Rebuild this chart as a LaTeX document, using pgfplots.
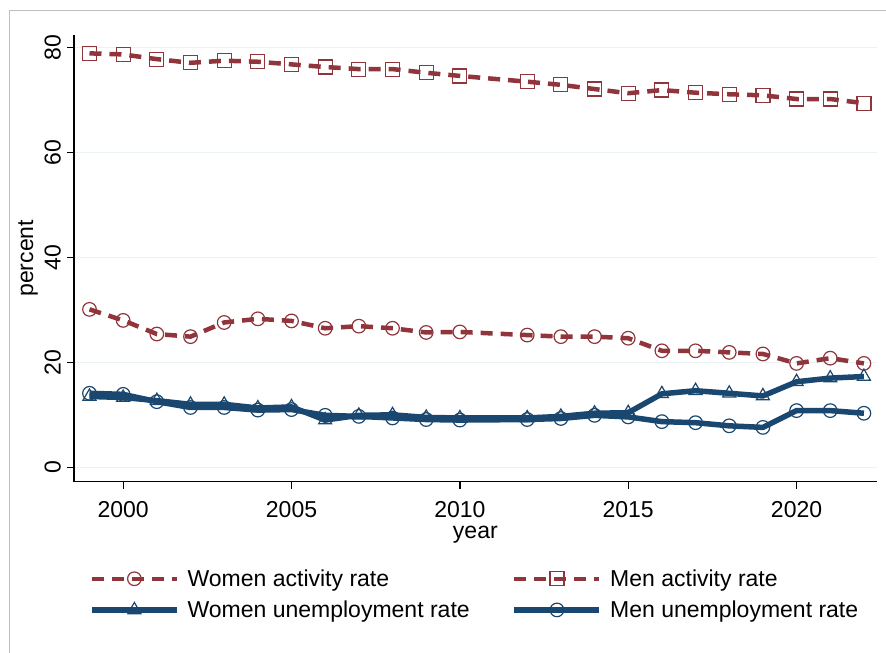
\documentclass[border=0pt]{standalone}
\usepackage{fontspec}
\setmainfont{Liberation Sans}
\usepackage{pgfplots}
\pgfplotsset{compat=1.18}
\definecolor{stmaroon}{RGB}{144,53,59}
\definecolor{stnavy}{RGB}{26,71,111}
\definecolor{stgrid}{RGB}{234,242,243}
\definecolor{stframe}{RGB}{190,190,190}
\begin{document}
\begin{tikzpicture}
\useasboundingbox (-74bp,-171.3bp) rectangle (812bp,481.7bp);
\draw[stframe, line width=1bp] (-64bp,-171.3bp) -- (-64bp,470.7bp) -- (812bp,470.7bp);
\begin{axis}[
  scale only axis, width=802.7bp, height=446.7bp,
  xmin=1998.54, xmax=2022.38, ymin=-2.75, ymax=82.4,
  axis x line*=bottom, axis y line*=left,
  axis line style={-, line width=1.3bp, black},
  xtick={2000,2005,...,2020}, ytick={0,20,...,80},
  tick align=outside, major tick length=7bp,
  tick style={line width=1.3bp, black},
  ymajorgrids, grid style={line width=1.3bp, stgrid},
  /pgf/number format/assume math mode=true,
  /pgf/number format/1000 sep={},
  tick label style={font=\fontsize{23bp}{27bp}\selectfont},
  xticklabel style={anchor=north, inner sep=0bp, yshift=-13bp},
  yticklabel style={rotate=90, anchor=south, inner sep=6bp},
  label style={font=\fontsize{23bp}{27bp}\selectfont},
  xlabel={year}, ylabel={percent},
  xlabel style={at={(axis description cs:0.5,-0.127)}, anchor=base},
  ylabel style={at={(axis description cs:-0.051,0.5)}, anchor=base},
  legend columns=2,
  legend cell align=left,
  legend style={at={(axis description cs:0.0149,-0.1876)}, anchor=north west,
    draw=none, fill=none, font=\fontsize{23bp}{27bp}\selectfont, row sep=9bp,
    /tikz/every odd column/.append style={column sep=6bp},
    /tikz/every even column/.append style={column sep=40bp},
    /tikz/column 3/.append style={column sep=1bp}},
  legend image code/.code={\draw[mark repeat=2,mark phase=2,#1] plot coordinates {(0bp,0bp) (42.5bp,0bp) (85bp,0bp)};},
]
\addplot[stmaroon, line width=4.5bp, dash pattern=on 12bp off 8bp, mark=o, mark size=6.8bp, mark options={solid, line width=1.2bp}] coordinates {
(1999,30.1) (2000,28.0) (2001,25.4) (2002,24.9) (2003,27.6) (2004,28.3) (2005,27.9) (2006,26.5) (2007,26.9) (2008,26.5) (2009,25.7) (2010,25.8) (2012,25.2) (2013,24.9) (2014,24.9) (2015,24.6) (2016,22.2) (2017,22.2) (2018,21.9) (2019,21.6) (2020,19.8) (2021,20.8) (2022,19.8)};
\addlegendentry{Women activity rate}
\addplot[stmaroon, line width=4.5bp, dash pattern=on 12bp off 8bp, mark=square, mark size=7bp, mark options={solid, line width=1.2bp}] coordinates {
(1999,78.9) (2000,78.7) (2001,77.8) (2002,77.1) (2003,77.5) (2004,77.3) (2005,76.8) (2006,76.3) (2007,75.9) (2008,75.9) (2009,75.2) (2010,74.6) (2012,73.5) (2013,72.9) (2014,72.1) (2015,71.3) (2016,71.9) (2017,71.4) (2018,71.1) (2019,70.9) (2020,70.2) (2021,70.2) (2022,69.4)};
\addlegendentry{Men activity rate}
\addplot[stnavy, line width=5.5bp, mark=triangle, mark size=7.5bp, mark options={solid, line width=1.2bp}] coordinates {
(1999,13.5) (2000,13.3) (2001,12.7) (2002,12.0) (2003,12.0) (2004,11.3) (2005,11.5) (2006,9.0) (2007,9.9) (2008,10.0) (2009,9.5) (2010,9.4) (2012,9.4) (2013,9.7) (2014,10.3) (2015,10.4) (2016,14.0) (2017,14.6) (2018,14.1) (2019,13.6) (2020,16.3) (2021,17.0) (2022,17.3)};
\addlegendentry{Women unemployment rate}
\addplot[stnavy, line width=5.5bp, mark=o, mark size=6.8bp, mark options={solid, line width=1.2bp}] coordinates {
(1999,14.1) (2000,13.9) (2001,12.5) (2002,11.4) (2003,11.4) (2004,10.9) (2005,11.0) (2006,9.9) (2007,9.7) (2008,9.4) (2009,9.1) (2010,9.0) (2012,9.1) (2013,9.3) (2014,9.9) (2015,9.6) (2016,8.7) (2017,8.5) (2018,7.9) (2019,7.6) (2020,10.8) (2021,10.8) (2022,10.3)};
\addlegendentry{Men unemployment rate}
\end{axis}
\end{tikzpicture}
\end{document}
